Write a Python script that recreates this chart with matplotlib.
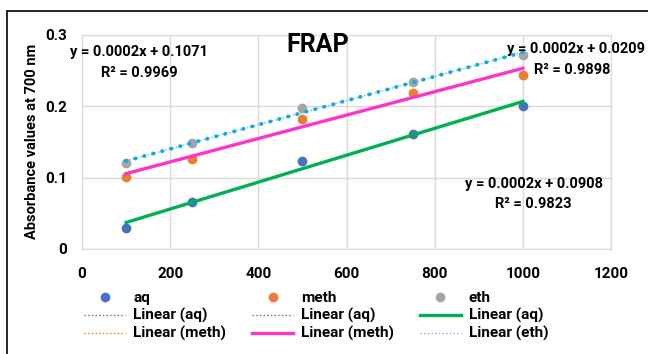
import numpy as np
import matplotlib
matplotlib.use("Agg")
import matplotlib.pyplot as plt
from matplotlib.patches import Rectangle

plt.rcParams['font.family'] = ['Roboto', 'DejaVu Sans']
plt.rcParams['font.weight'] = 'bold'

# concentrations (x) and absorbance readings per extract
conc = [100, 250, 500, 750, 1000]
aq = [0.030, 0.066, 0.1235, 0.161, 0.2004]
meth = [0.101, 0.126, 0.182, 0.2186, 0.244]
eth = [0.120, 0.148, 0.197, 0.234, 0.272]

eq_eth = ("y = 0.0002x + 0.1071", "R² = 0.9969")
eq_aq = ("y = 0.0002x + 0.0209", "R² = 0.9898")
eq_meth = ("y = 0.0002x + 0.0908", "R² = 0.9823")

W, H = 648, 354
fig = plt.figure(figsize=(W / 100, H / 100), dpi=100)
ax = fig.add_axes([82 / W, 1 - 249 / H, (611 - 82) / W, (249 - 34.7) / H])

GRID = '#D9D9D9'
ax.set_xlim(0, 1200)
ax.set_ylim(0, 0.3)
ax.set_xticks(np.arange(0, 1201, 200))
ax.set_yticks([0, 0.1, 0.2, 0.3])
ax.set_yticklabels(['0', '0.1', '0.2', '0.3'])
ax.grid(True, color=GRID, linewidth=1)
ax.set_axisbelow(True)
for s in ax.spines.values():
    s.set_color(GRID)
ax.tick_params(length=0, labelsize=11, pad=13, colors='black')
ax.tick_params(axis='y', pad=11)
ax.set_ylabel("Absorbance values at 700 nm", fontsize=10.5, fontweight='bold', labelpad=4)

# scatter points
p_aq, = ax.plot(conc, aq, 'o', color='#4472C4', ms=6, label='aq')
p_me, = ax.plot(conc, meth, 'o', color='#ED7D31', ms=6, label='meth')
p_et, = ax.plot(conc, eth, 'o', color='#A5A5A5', ms=6, label='eth')

# trendlines (least squares over the points)
xs = np.array([conc[0], conc[-1]])


def trend(y):
    k, b = np.polyfit(conc, y, 1)
    return k * xs + b


t_aq1, = ax.plot(xs, trend(aq), ':', color='#4472C4', lw=1, label='Linear (aq)')
t_aq2, = ax.plot(xs, trend(aq), ':', color='#4472C4', lw=1, label='Linear (aq)')
t_me1, = ax.plot(xs, trend(meth), ':', color='#ED7D31', lw=1, label='Linear (meth)')
t_et, = ax.plot(xs, trend(eth), ':', color='#A5A5A5', lw=1, label='Linear (eth)')
t_eth_blue, = ax.plot(xs, trend(eth), color='#00B0F0', lw=2.8,
                      linestyle=(0, (0.1, 2.3)), dash_capstyle='round')
t_me2, = ax.plot(xs, trend(meth), '-', color='#FF33CC', lw=2.4, label='Linear (meth)')
t_aq3, = ax.plot(xs, trend(aq), '-', color='#00B050', lw=2.4, label='Linear (aq)')

# equations
PX = 0.4407  # pixels per x unit, used only to place text labels
ax.text((139 - 82) / PX, 0.276, eq_eth[0], fontsize=10.5, ha='center', va='center')
ax.text((139 - 82) / PX, 0.247, eq_eth[1], fontsize=10.5, ha='center', va='center')
ax.text((576 - 82) / PX, 0.280, eq_aq[0], fontsize=10.5, ha='center', va='center')
ax.text((572 - 82) / PX, 0.251, eq_aq[1], fontsize=10.5, ha='center', va='center')
ax.text((534 - 82) / PX, 0.0913, eq_meth[0], fontsize=10.5, ha='center', va='center')
ax.text((533 - 82) / PX, 0.0633, eq_meth[1], fontsize=10.5, ha='center', va='center')

ax.text((318 - 82) / PX, 0.285, "FRAP", fontsize=18, ha='center', va='center')

# legend: matplotlib fills by column, so order entries column by column
handles = [p_aq, t_aq1, t_me1, p_me, t_aq2, t_me2, p_et, t_aq3, t_et]
labels = [h.get_label() for h in handles]
fig.legend(handles, labels, ncol=3, loc='upper left',
           bbox_to_anchor=(78 / W, 1 - 285 / H), frameon=False,
           fontsize=11, handlelength=2.7, handletextpad=0.5,
           columnspacing=1.7, labelspacing=0.2, borderaxespad=0)

# outer chart border
fig.patches.append(Rectangle((7 / W, -0.2), 1.5, 1 - 11 / H + 0.2,
                             transform=fig.transFigure, fill=False,
                             edgecolor='black', lw=1.2))

fig.savefig("out.png", dpi=100)
